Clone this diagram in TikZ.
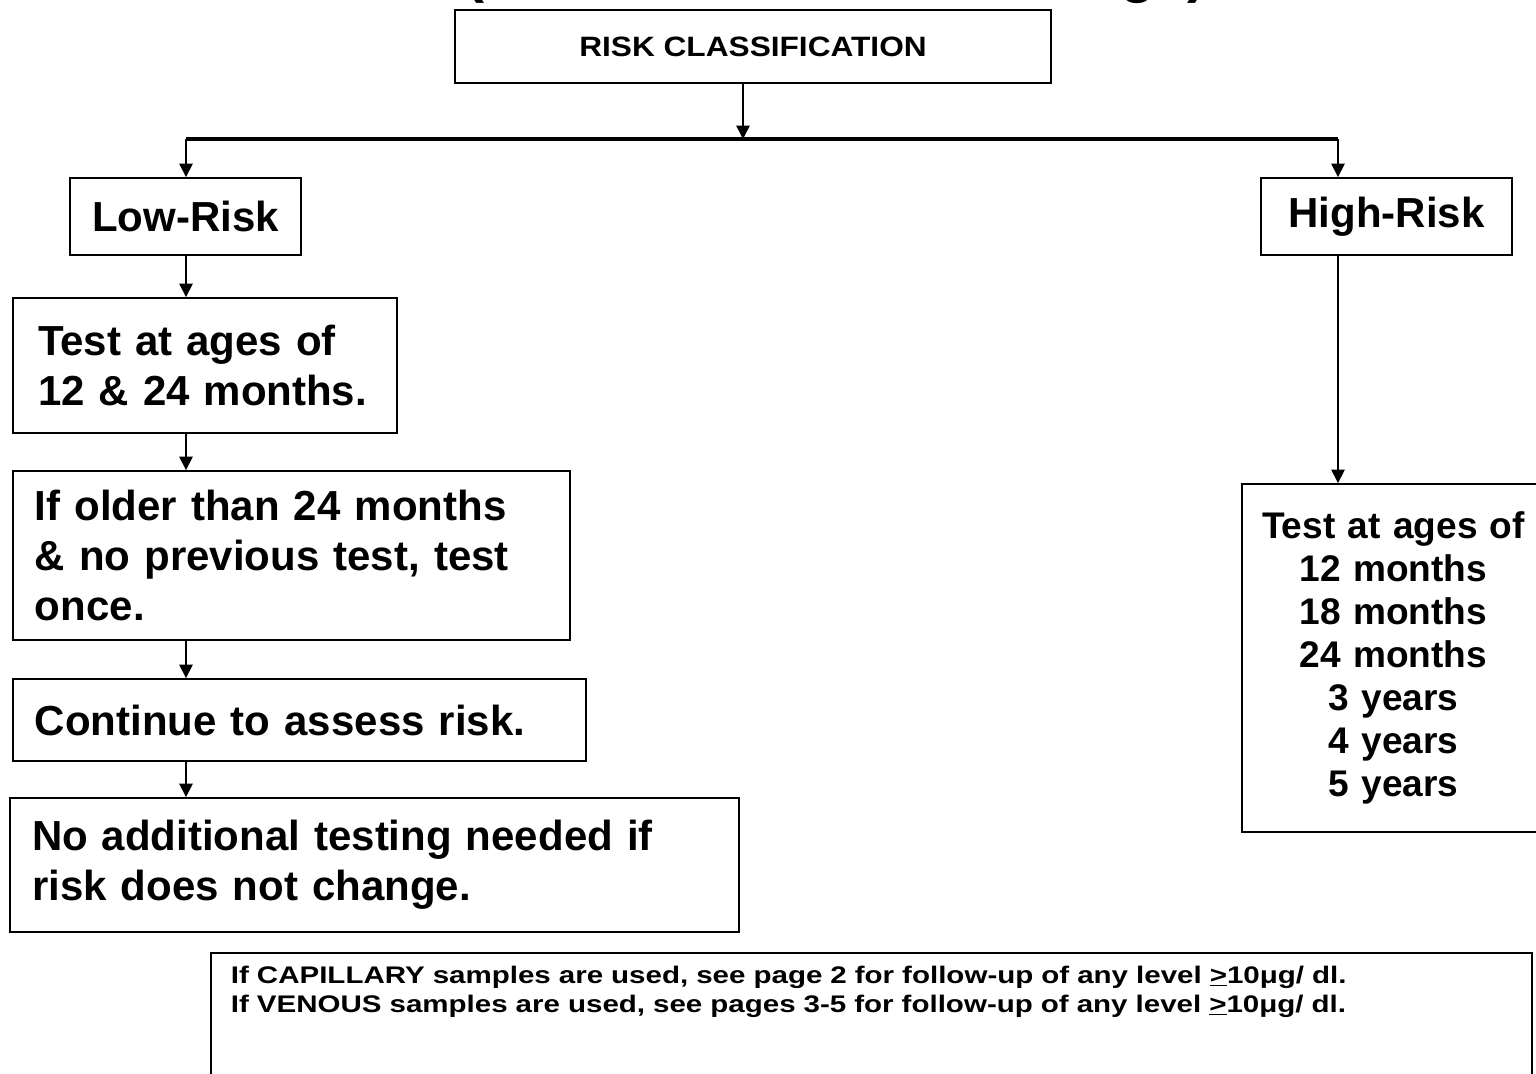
\documentclass[tikz,border=0pt]{standalone}
\usepackage{fontspec}
\setmainfont{Liberation Sans}
\newfontfamily\widefont[FakeStretch=1.13]{Liberation Sans}
\newfontfamily\notefont[FakeStretch=1.23]{Liberation Sans}
\usetikzlibrary{arrows.meta}

\begin{document}
\begin{tikzpicture}[x=0.75pt, y=-0.75pt, >={Triangle[width=10pt,length=10pt]},
  box/.style={draw, line width=1.4pt, inner ysep=0pt, align=left,
    font=\fontsize{31.5}{37.5}\selectfont\bfseries},
  link/.style={->, line width=1.1pt}]
  \useasboundingbox (0,0) rectangle (1536,1074);
  % Branch points on the split line
  \coordinate (bl) at (186,139);
  \coordinate (bm) at (743,139);
  \coordinate (br) at (1338,139);
  % 1. Title (cut off at the top edge)
  \node[anchor=base west, inner sep=0pt, font=\fontsize{43}{50}\selectfont\bfseries] (titlel) at (465,-8) {(};
  \node[anchor=base west, inner sep=0pt, font=\fontsize{43}{50}\selectfont\bfseries] (titler) at (1120,-8) {ge)};
  % 2. Classification boxes
  \node[box, minimum width=447pt, minimum height=54.75pt, align=center,
    font=\widefont\fontsize{21}{25}\selectfont\bfseries] (risk) at (753,46.5) {RISK CLASSIFICATION};
  \node[box, minimum width=173.25pt, minimum height=57.75pt, align=center] (low) at (185.5,216.5) {Low-Risk};
  \node[box, minimum width=188.25pt, minimum height=57.75pt, align=center] (high) at (1386.5,216.5) {High-Risk};
  % 3. Low-risk branch
  \node[box, text width=250.5pt, inner xsep=18.75pt, minimum height=101.25pt] (lowtest) at (205,365.5)
    {Test at ages of\\12 \& 24 months.};
  \node[box, text width=384.75pt, inner xsep=16.5pt, minimum height=126.75pt] (older) at (291.5,555.5)
    {If older than 24 months\\\& no previous test, test\\once.};
  \node[box, text width=396.75pt, inner xsep=16.5pt, minimum height=61.5pt] (assess) at (299.5,720)
    {Continue to assess risk.};
  \node[box, text width=513.75pt, inner xsep=16.5pt, minimum height=100.5pt] (noadd) at (374.5,865)
    {No additional testing needed if\\risk does not change.};
  % 4. High-risk branch
  \node[box, text width=200pt, inner xsep=0pt, minimum width=227.25pt, minimum height=261pt, align=center,
    font=\fontsize{27.8}{32.25}\selectfont\bfseries] (hightest) at (1393.5,658)
    {Test at ages of\\12 months\\18 months\\24 months\\3 years\\4 years\\5 years};
  % 5. Note at the bottom
  \node[box, anchor=north west, text width=960.75pt, inner xsep=15pt, inner ysep=10pt, text depth=90pt,
    font=\notefont\fontsize{18}{21.75}\selectfont\bfseries] (note) at (210,952)
    {If CAPILLARY samples are used, see page 2 for follow-up of any level \underline{>}10μg/ dl.\\
     If VENOUS samples are used, see pages 3-5 for follow-up of any level \underline{>}10μg/ dl.};
  % 6. Connectors
  \draw[link] (risk.south -| bm) -- (bm);
  \draw[line width=2.6pt] (bl) -- (br);
  \draw[link] (bl) -- (bl |- low.north);
  \draw[link] (br) -- (br |- high.north);
  \draw[link] (low.south -| bl) -- (lowtest.north -| bl);
  \draw[link] (lowtest.south -| bl) -- (older.north -| bl);
  \draw[link] (older.south -| bl) -- (assess.north -| bl);
  \draw[link] (assess.south -| bl) -- (noadd.north -| bl);
  \draw[link] (high.south -| br) -- (hightest.north -| br);
\end{tikzpicture}
\end{document}
